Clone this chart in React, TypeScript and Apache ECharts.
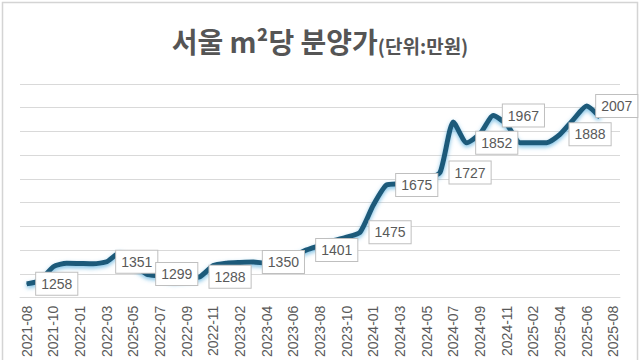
import React, { useEffect, useRef } from "react";
import * as echarts from "echarts";

const categories = [
  "2021-08", "2021-09", "2021-10", "2021-12", "2022-01", "2022-02", "2022-03", "2022-04", "2025-05", "2022-06",
  "2022-07", "2022-08", "2022-09", "2022-10", "2022-11", "2023-01", "2023-02", "2023-03", "2023-04", "2023-05",
  "2023-06", "2023-07", "2023-08", "2023-09", "2023-10", "2023-12", "2024-01", "2024-02", "2024-03", "2024-04",
  "2024-05", "2024-06", "2024-07", "2024-08", "2024-09", "2024-10", "2024-11", "2025-01", "2025-02", "2025-03",
  "2025-04", "2025-05", "2025-06", "2025-07", "2025-08",
];

const values: (number | null)[] = [
  1258, 1272, 1330, 1345, 1344, 1343, 1351, 1390, 1340, 1299,
  1290, 1275, 1280, 1288, 1335, 1345, 1348, 1350, 1345, 1350,
  1375, 1401, 1420, 1440, 1455, 1475, 1590, 1675, 1680, 1690,
  1700, 1727, 1940, 1852, 1890, 1967, 1930, 1853, 1853, 1853,
  1888, 1950, 2007, 1960, null,
];

const labeledIdx = [0, 6, 9, 13, 17, 21, 25, 27, 31, 33, 35, 40, 42];

const yMin = 1200;
const yMax = 2100;
const yStep = 100;

export default function App() {
  const ref = useRef<HTMLDivElement>(null);
  useEffect(() => {
    document.body.style.margin = "0";
    const chart = echarts.init(ref.current!, undefined, { renderer: "svg" });
    const data = values.map((v, i) =>
      labeledIdx.includes(i)
        ? { value: v, label: { show: true } }
        : { value: v, label: { show: false } }
    );
    chart.setOption({
      animation: false,
      backgroundColor: "#ffffff",
      title: {
        left: "center",
        top: 14,
        text: "{a|서울 m²당 분양가}{b|(단위:만원)}",
        textStyle: {
          rich: {
            a: {
              fontFamily: "Noto Sans CJK KR",
              fontWeight: "bold",
              fontSize: 28,
              color: "#555555",
              verticalAlign: "bottom",
              lineHeight: 36,
            },
            b: {
              fontFamily: "Noto Sans CJK KR",
              fontSize: 19,
              color: "#555555",
              verticalAlign: "bottom",
              lineHeight: 32,
            },
          },
        },
      },
      graphic: [
        {
          type: "rect",
          shape: { x: 2.5, y: 2.5, width: 635, height: 400 },
          style: { fill: "none", stroke: "#d4d4d4", lineWidth: 1.5 },
          silent: true,
        },
      ],
      grid: { left: 20, right: 20, top: 84, bottom: 55 },
      xAxis: {
        type: "category",
        data: categories,
        boundaryGap: true,
        axisLine: { show: true, lineStyle: { color: "#d9d9d9", width: 1 } },
        axisTick: { show: false },
        axisLabel: {
          interval: 1,
          rotate: 90,
          color: "#595959",
          fontSize: 14,
          fontFamily: "Liberation Sans",
          margin: 8,
        },
      },
      yAxis: {
        type: "value",
        min: yMin,
        max: yMax,
        interval: yStep,
        axisLabel: { show: false },
        axisLine: { show: false },
        axisTick: { show: false },
        splitLine: { lineStyle: { color: "#d9d9d9", width: 1 } },
      },
      series: [
        {
          type: "line",
          data,
          smooth: 0.2,
          symbol: "circle",
          symbolSize: 1,
          showSymbol: true,
          showAllSymbol: true,
          itemStyle: { color: "#1f5a7a" },
          connectNulls: false,
          lineStyle: {
            color: "#1f5a7a",
            width: 5,
            shadowColor: "rgba(80,170,220,0.75)",
            shadowBlur: 4,
            shadowOffsetY: 2,
          },
          label: {
            position: "right",
            distance: 9,
            formatter: (p: any) => String(p.value),
            color: "#595959",
            fontSize: 14,
            fontFamily: "Liberation Sans",
            backgroundColor: "#ffffff",
            borderColor: "#bfbfbf",
            borderWidth: 1,
            padding: [4, 5, 4, 5],
          },
          labelLayout: { hideOverlap: false },
        },
      ],
    });
    return () => chart.dispose();
  }, []);
  return <div ref={ref} style={{ width: 640, height: 360 }} />;
}
